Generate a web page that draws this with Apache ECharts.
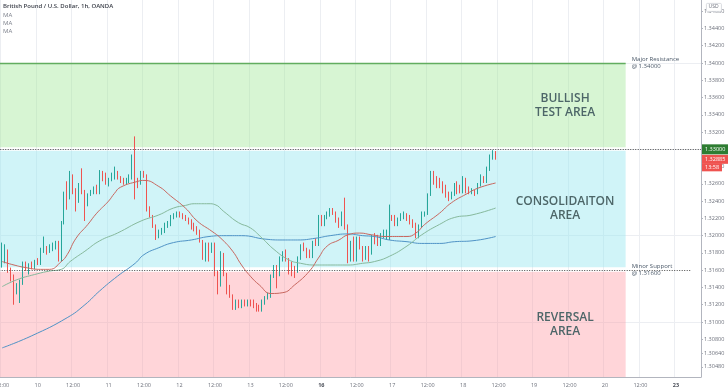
<!DOCTYPE html>
<html><head><meta charset="utf-8">
<script src="https://cdn.jsdelivr.net/npm/echarts@6/dist/echarts.min.js"></script>
<style>html,body{margin:0;padding:0;background:#fff}#c{width:728px;height:391px}</style>
</head><body><div id="c"></div>
<script>
// ---------- data ----------
const titleText = 'British Pound / U.S. Dollar, 1h, OANDA';
const maLabels = ['MA', 'MA', 'MA'];
const days = ['9', '10', '11', '12', '13', '16', '17', '18', '19', '20', '23'];
const weekStarts = ['16', '23'];
// candles: [open, close, low, high], hourly, first = 9 12:00
const candles = [
[1.3166,1.3172,1.3163,1.3192],[1.3170,1.3182,1.3168,1.3190],[1.3182,1.3159,1.3157,1.3184],[1.3159,1.3153,1.3147,1.3163],
[1.3153,1.3136,1.3120,1.3155],[1.3136,1.3143,1.3132,1.3145],[1.3143,1.3147,1.3122,1.3149],[1.3145,1.3168,1.3143,1.3170],
[1.3168,1.3163,1.3159,1.3170],[1.3163,1.3166,1.3155,1.3168],[1.3168,1.3163,1.3161,1.3170],[1.3163,1.3170,1.3161,1.3172],
[1.3170,1.3168,1.3166,1.3174],[1.3168,1.3184,1.3166,1.3186],[1.3182,1.3186,1.3180,1.3199],[1.3186,1.3180,1.3178,1.3188],
[1.3182,1.3186,1.3180,1.3190],[1.3184,1.3188,1.3182,1.3192],[1.3186,1.3192,1.3184,1.3194],[1.3192,1.3172,1.3170,1.3194],
[1.3172,1.3215,1.3170,1.3217],[1.3215,1.3249,1.3213,1.3251],[1.3249,1.3244,1.3230,1.3263],[1.3244,1.3265,1.3242,1.3275],
[1.3263,1.3251,1.3248,1.3271],[1.3251,1.3240,1.3228,1.3255],[1.3240,1.3257,1.3238,1.3261],[1.3257,1.3249,1.3248,1.3278],
[1.3249,1.3236,1.3217,1.3253],[1.3236,1.3248,1.3234,1.3249],[1.3248,1.3251,1.3246,1.3253],[1.3249,1.3255,1.3248,1.3257],
[1.3255,1.3249,1.3248,1.3259],[1.3249,1.3273,1.3248,1.3276],[1.3273,1.3265,1.3263,1.3275],[1.3267,1.3261,1.3259,1.3273],
[1.3259,1.3265,1.3257,1.3267],[1.3265,1.3271,1.3263,1.3273],[1.3267,1.3273,1.3265,1.3280],[1.3271,1.3267,1.3265,1.3275],
[1.3267,1.3263,1.3261,1.3269],[1.3265,1.3261,1.3259,1.3267],[1.3261,1.3265,1.3259,1.3267],[1.3263,1.3269,1.3261,1.3271],
[1.3267,1.3280,1.3265,1.3294],[1.3282,1.3263,1.3242,1.3315],[1.3263,1.3259,1.3255,1.3267],[1.3261,1.3271,1.3259,1.3275],
[1.3271,1.3269,1.3267,1.3275],[1.3269,1.3230,1.3228,1.3271],[1.3230,1.3222,1.3221,1.3234],[1.3222,1.3211,1.3209,1.3224],
[1.3211,1.3199,1.3195,1.3213],[1.3199,1.3205,1.3197,1.3207],[1.3203,1.3207,1.3201,1.3209],[1.3205,1.3213,1.3203,1.3215],
[1.3213,1.3215,1.3209,1.3217],[1.3213,1.3221,1.3211,1.3224],[1.3221,1.3224,1.3219,1.3226],[1.3224,1.3226,1.3221,1.3228],
[1.3226,1.3222,1.3221,1.3228],[1.3224,1.3221,1.3219,1.3226],[1.3221,1.3219,1.3217,1.3224],[1.3219,1.3217,1.3213,1.3221],
[1.3217,1.3209,1.3207,1.3219],[1.3213,1.3207,1.3205,1.3215],[1.3209,1.3205,1.3201,1.3211],[1.3205,1.3194,1.3192,1.3207],
[1.3194,1.3174,1.3172,1.3195],[1.3174,1.3190,1.3170,1.3192],[1.3190,1.3182,1.3170,1.3192],[1.3182,1.3190,1.3180,1.3192],
[1.3190,1.3155,1.3153,1.3192],[1.3155,1.3143,1.3132,1.3159],[1.3143,1.3180,1.3141,1.3182],[1.3178,1.3155,1.3153,1.3180],
[1.3155,1.3141,1.3132,1.3157],[1.3141,1.3130,1.3128,1.3143],[1.3130,1.3116,1.3114,1.3132],[1.3116,1.3124,1.3114,1.3126],
[1.3124,1.3118,1.3116,1.3126],[1.3118,1.3124,1.3116,1.3126],[1.3124,1.3120,1.3118,1.3126],[1.3120,1.3124,1.3118,1.3126],
[1.3124,1.3120,1.3118,1.3126],[1.3124,1.3118,1.3116,1.3126],[1.3120,1.3114,1.3112,1.3122],[1.3118,1.3114,1.3112,1.3120],
[1.3114,1.3124,1.3112,1.3126],[1.3124,1.3128,1.3120,1.3130],[1.3128,1.3132,1.3126,1.3134],[1.3130,1.3153,1.3128,1.3155],
[1.3153,1.3163,1.3151,1.3166],[1.3163,1.3151,1.3139,1.3166],[1.3155,1.3172,1.3153,1.3176],[1.3172,1.3180,1.3170,1.3182],
[1.3182,1.3172,1.3170,1.3184],[1.3172,1.3166,1.3155,1.3174],[1.3166,1.3163,1.3153,1.3170],[1.3163,1.3159,1.3151,1.3165],
[1.3159,1.3174,1.3157,1.3176],[1.3174,1.3188,1.3172,1.3190],[1.3190,1.3184,1.3182,1.3192],[1.3184,1.3178,1.3174,1.3186],
[1.3182,1.3176,1.3174,1.3184],[1.3176,1.3192,1.3174,1.3194],[1.3195,1.3190,1.3188,1.3197],[1.3190,1.3221,1.3188,1.3224],
[1.3221,1.3213,1.3211,1.3224],[1.3213,1.3221,1.3211,1.3224],[1.3221,1.3224,1.3219,1.3228],[1.3224,1.3230,1.3222,1.3232],
[1.3230,1.3226,1.3224,1.3232],[1.3226,1.3217,1.3215,1.3228],[1.3219,1.3211,1.3209,1.3221],[1.3213,1.3226,1.3211,1.3228],
[1.3226,1.3209,1.3207,1.3244],[1.3209,1.3172,1.3168,1.3213],[1.3172,1.3192,1.3170,1.3194],[1.3192,1.3172,1.3170,1.3199],
[1.3172,1.3197,1.3170,1.3199],[1.3197,1.3186,1.3184,1.3199],[1.3186,1.3172,1.3170,1.3188],[1.3174,1.3186,1.3172,1.3188],
[1.3186,1.3180,1.3170,1.3188],[1.3180,1.3199,1.3178,1.3201],[1.3199,1.3192,1.3190,1.3203],[1.3199,1.3190,1.3188,1.3201],
[1.3190,1.3201,1.3188,1.3203],[1.3199,1.3205,1.3197,1.3207],[1.3197,1.3205,1.3195,1.3207],[1.3197,1.3222,1.3195,1.3236],
[1.3222,1.3219,1.3217,1.3224],[1.3221,1.3213,1.3211,1.3224],[1.3213,1.3219,1.3211,1.3221],[1.3219,1.3224,1.3217,1.3226],
[1.3221,1.3224,1.3219,1.3228],[1.3224,1.3219,1.3217,1.3226],[1.3221,1.3215,1.3213,1.3224],[1.3217,1.3211,1.3209,1.3219],
[1.3213,1.3199,1.3197,1.3215],[1.3199,1.3211,1.3197,1.3213],[1.3211,1.3224,1.3209,1.3228],[1.3224,1.3226,1.3222,1.3228],
[1.3226,1.3248,1.3224,1.3249],[1.3248,1.3273,1.3246,1.3275],[1.3273,1.3261,1.3259,1.3275],[1.3267,1.3257,1.3255,1.3269],
[1.3263,1.3259,1.3255,1.3267],[1.3261,1.3251,1.3249,1.3263],[1.3255,1.3248,1.3244,1.3259],[1.3249,1.3242,1.3240,1.3251],
[1.3244,1.3248,1.3242,1.3251],[1.3248,1.3259,1.3246,1.3261],[1.3259,1.3249,1.3248,1.3263],[1.3255,1.3251,1.3249,1.3259],
[1.3251,1.3267,1.3249,1.3269],[1.3265,1.3251,1.3249,1.3267],[1.3255,1.3249,1.3248,1.3257],[1.3249,1.3253,1.3248,1.3255],
[1.3251,1.3248,1.3246,1.3253],[1.3249,1.3259,1.3248,1.3261],[1.3259,1.3267,1.3257,1.3271],[1.3267,1.3263,1.3261,1.3269],
[1.3263,1.3278,1.3261,1.3280],[1.3276,1.3290,1.3275,1.3294],[1.3290,1.3298,1.3288,1.3299],[1.3294,1.32885,1.3288,1.3298]
];
// moving averages: [candle index, value]
const maRed = [[0,1.3170],[4,1.3166],[8,1.3163],[13,1.3161],[16,1.3161],[20,1.3170],[22,1.3178],[25,1.3197],[29,1.3213],[32,1.3226],[36,1.3240],[38,1.3249],[40,1.3256],[46,1.3263],[48,1.3264],[53,1.3257],[57,1.3246],[62,1.3232],[66,1.3217],[71,1.3205],[74,1.3197],[78,1.3182],[81,1.3166],[84,1.3153],[87,1.3143],[91,1.3133],[95,1.3134],[99,1.3143],[104,1.3159],[107,1.3174],[110,1.3188],[114,1.3195],[117,1.3201],[121,1.3203],[125,1.3201],[130,1.3199],[137,1.3199],[140,1.3203],[143,1.3213],[148,1.3226],[152,1.3238],[157,1.3248],[161,1.3255],[167,1.3261]];
const maGreen = [[0,1.3141],[5,1.3149],[11,1.3155],[16,1.3159],[20,1.3161],[23,1.3170],[28,1.3182],[33,1.3194],[39,1.3203],[47,1.3217],[53,1.3224],[58,1.3232],[62,1.3235],[65,1.3237],[70,1.3237],[72,1.3236],[75,1.3228],[80,1.3215],[84,1.3209],[88,1.3197],[92,1.3184],[97,1.3172],[101,1.3168],[106,1.3166],[111,1.3166],[117,1.3166],[122,1.3168],[126,1.3170],[131,1.3176],[137,1.3188],[142,1.3201],[148,1.3213],[153,1.3221],[159,1.3224],[167,1.3232]];
const maBlue = [[0,1.3070],[10,1.3084],[22,1.3105],[28,1.3120],[33,1.3136],[39,1.3153],[45,1.3168],[48,1.3178],[53,1.3186],[58,1.3192],[64,1.3195],[70,1.3199],[75,1.3200],[81,1.3200],[89,1.3196],[95,1.3195],[100,1.3195],[106,1.3197],[111,1.3200],[117,1.3202],[122,1.3200],[126,1.3199],[131,1.3195],[137,1.3193],[142,1.3191],[148,1.3191],[153,1.3193],[159,1.3194],[167,1.3199]];
const yTicks = [1.346,1.344,1.342,1.340,1.338,1.336,1.334,1.332,1.330,1.328,1.326,1.324,1.322,1.320,1.318,1.316,1.314,1.312,1.310,1.308,1.3064,1.3048];
const yMin = 1.303628, yMax = 1.347298;
const lastPrice = 1.32885, lastTime = '13:58';
const resistance = 1.34, testLevel = 1.33, support = 1.316;
const resistanceNote = 'Major Resistance\n@ 1.34000';
const supportNote = 'Minor Support\n@ 1.31600';
const bandBullish = [1.33023, 1.34];
const bandConsol = [1.31634, 1.32984];
const bandReversal = [1.30, 1.31583];
const bandLabels = ['BULLISH\nTEST AREA', 'CONSOLIDAITON\nAREA', 'REVERSAL\nAREA'];
const bandEndCat = '20|07', labelStartCat = '18|14', supportEndCat = '23|05';

// ---------- build ----------
const FONT = "'Open Sans', 'DejaVu Sans', sans-serif";
const UP = '#26a69a', DOWN = '#ef5350';
const CLEAR = 'rgba(0,0,0,0)';
const pad = h => (h < 10 ? '0' : '') + h;
const categories = ['9|11'];
for (let h = 12; h < 24; h++) categories.push('9|' + pad(h));
days.slice(1).forEach(d => { for (let h = 0; h < 24; h++) if (categories.length < 238) categories.push(d + '|' + pad(h)); });
const OFFSET = 1;
const candleData = categories.map((c, k) => (k >= OFFSET && k - OFFSET < candles.length) ? candles[k - OFFSET] : '-');
const shift = arr => arr.map(p => [p[0] + OFFSET, p[1]]);
const isLabelCat = (i, v) => /\|(00|12)$/.test(v);

const bandTextStyle = {show: true, position: 'inside', fontSize: 12, fontWeight: 600, color: '#4d6668', lineHeight: 14, fontFamily: FONT};
function band(range, color, text) {
  return [
    [{xAxis: 0, yAxis: range[1], itemStyle: {color: color}, label: {show: false}}, {xAxis: bandEndCat, yAxis: range[0]}],
    [{xAxis: labelStartCat, yAxis: range[1], itemStyle: {color: CLEAR}, label: Object.assign({formatter: text}, bandTextStyle)}, {xAxis: bandEndCat, yAxis: range[0]}]
  ];
}
const noteLabel = {show: true, position: 'end', distance: 6, fontSize: 6, color: '#4a5868', lineHeight: 7, fontFamily: FONT};
const dotted = {color: '#4a4a4a', width: 1, type: [1, 1.5]};

const option = {
  animation: false,
  backgroundColor: '#ffffff',
  textStyle: {fontFamily: FONT},
  title: {
    text: titleText, subtext: maLabels.join('\n'), left: 3, top: 3, padding: 0, itemGap: 1,
    textStyle: {fontSize: 6, fontWeight: 600, color: '#3a3e48', lineHeight: 7, fontFamily: FONT},
    subtextStyle: {fontSize: 6, color: '#7b7f8a', lineHeight: 8.3, fontFamily: FONT}
  },
  grid: {left: -2.26, right: 27, top: 0, bottom: 14, containLabel: false, outerBoundsMode: 'none'},
  xAxis: {
    type: 'category', data: categories, boundaryGap: true,
    axisLine: {show: true, lineStyle: {color: '#b2b5be', width: 1}},
    axisTick: {show: false},
    axisLabel: {
      interval: isLabelCat, fontSize: 5.5, color: '#6b6f7a', margin: 5, fontFamily: FONT, hideOverlap: false,
      formatter: v => { const p = v.split('|'); if (p[1] === '12') return '12:00'; return weekStarts.includes(p[0]) ? '{b|' + p[0] + '}' : p[0]; },
      rich: {b: {fontSize: 5.5, fontWeight: 'bold', color: '#4a4e58', fontFamily: FONT}}
    },
    splitLine: {show: true, interval: isLabelCat, lineStyle: {color: '#eceef2', width: 1}}
  },
  yAxis: {
    type: 'value', position: 'right', min: yMin, max: yMax, scale: true,
    axisLine: {show: true, lineStyle: {color: '#b2b5be', width: 1}},
    axisTick: {show: true, length: 2, customValues: yTicks, lineStyle: {color: '#b2b5be'}},
    axisLabel: {customValues: yTicks, formatter: v => v.toFixed(5), fontSize: 5.5, color: '#6b6f7a', margin: 3, fontFamily: FONT},
    splitLine: {show: false}
  },
  graphic: [
    {type: 'rect', left: 706, top: 3, shape: {width: 15, height: 8, r: 1}, style: {fill: '#fff', stroke: '#cfd2d8', lineWidth: 0.8}, z: 100},
    {type: 'text', left: 708.5, top: 4.5, style: {text: 'USD', fontSize: 5, fill: '#6b6f7a', fontFamily: FONT}, z: 101}
  ],
  series: [
    {
      type: 'candlestick', name: 'GBPUSD', data: candleData, barWidth: 1.3, z: 2,
      itemStyle: {color: UP, color0: DOWN, borderColor: UP, borderColor0: DOWN, borderWidth: 1},
      markArea: {
        silent: true, z: 1,
        data: [].concat(
          band(bandBullish, 'rgba(160,230,150,0.42)', bandLabels[0]),
          band(bandConsol, 'rgba(150,230,240,0.45)', bandLabels[1]),
          band(bandReversal, 'rgba(255,150,160,0.40)', bandLabels[2])
        )
      },
      markLine: {
        silent: true, symbol: ['none', 'none'], z: 5,
        data: [
          [{xAxis: 0, yAxis: resistance, lineStyle: {color: '#62ad5f', width: 1.4, type: 'solid'}, label: Object.assign({formatter: resistanceNote}, noteLabel)}, {xAxis: bandEndCat, yAxis: resistance}],
          [{xAxis: 0, yAxis: support, lineStyle: dotted, label: {show: false}}, {xAxis: supportEndCat, yAxis: support}],
          [{xAxis: 0, yAxis: support, lineStyle: {color: CLEAR, width: 0}, label: Object.assign({formatter: supportNote}, noteLabel)}, {xAxis: bandEndCat, yAxis: support}],
          {yAxis: lastPrice, lineStyle: {color: CLEAR, width: 0}, label: {
            show: true, position: 'end', distance: 1, offset: [0, 14],
            formatter: '{a|' + lastPrice.toFixed(5) + '}\n{b|' + lastTime + '}',
            rich: {
              a: {backgroundColor: DOWN, color: '#fff', fontSize: 5.5, padding: [1.5, 3, 1.5, 3], lineHeight: 8, fontFamily: FONT},
              b: {backgroundColor: DOWN, color: '#fff', fontSize: 5.5, padding: [1, 3, 1, 3], lineHeight: 8, fontFamily: FONT}
            }
          }},
          {yAxis: testLevel, lineStyle: dotted, label: {show: true, position: 'end', distance: 1, formatter: testLevel.toFixed(5), backgroundColor: '#2e7d32', color: '#ffffff', fontSize: 5.5, padding: [2, 3, 2, 3], fontFamily: FONT}}
        ]
      }
    },
    {
      type: 'line', name: 'MA', data: shift(maBlue), smooth: 0.5, showSymbol: false, z: 3,
      lineStyle: {color: '#4f93c6', width: 1},
      markLine: {silent: true, symbol: ['none', 'none'], z: 0, label: {show: false},
        lineStyle: {color: '#eceef2', width: 1, type: 'solid'}, data: yTicks.map(v => ({yAxis: v}))}
    },
    {type: 'line', name: 'MA', data: shift(maGreen), smooth: 0.5, showSymbol: false, z: 3, lineStyle: {color: '#86b99c', width: 1}},
    {type: 'line', name: 'MA', data: shift(maRed), smooth: 0.5, showSymbol: false, z: 3, lineStyle: {color: '#c8675f', width: 1}}
  ]
};
const chart = echarts.init(document.getElementById('c'));
chart.setOption(option);
</script>
</body></html>
